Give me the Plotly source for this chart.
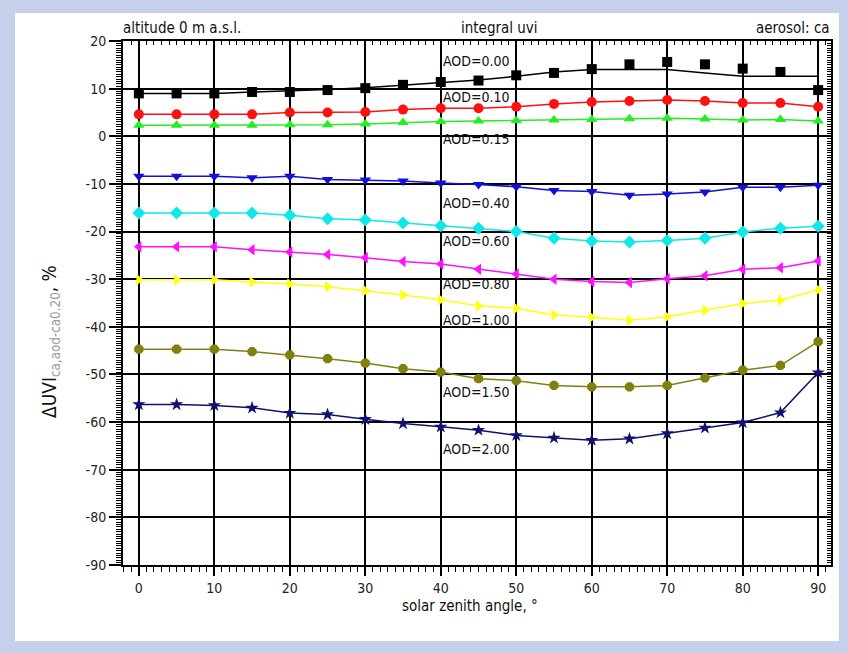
import plotly.graph_objects as go

# ---------------- data ----------------
sza = [0, 5, 10, 15, 20, 25, 30, 35, 40, 45, 50, 55, 60, 65, 70, 75, 80, 85, 90]

aod_000 = [9.0, 9.0, 9.0, 9.3, 9.3, 9.7, 10.1, 10.8, 11.4, 11.7, 12.8, 13.3, 14.1, 15.1, 15.6, 15.1, 14.2, 13.5, 9.7]
aod_000_line = [9.0, 9.0, 9.0, 9.3, 9.5, 9.8, 10.2, 10.7, 11.2, 11.8, 12.6, 13.5, 14.0, 14.0, 14.0, 13.3, 12.6, 12.6, 12.6]
aod_010 = [4.6, 4.6, 4.6, 4.6, 5.0, 5.0, 5.1, 5.6, 5.9, 5.9, 6.2, 6.8, 7.2, 7.4, 7.6, 7.4, 7.0, 7.0, 6.2]
aod_015 = [2.3, 2.3, 2.3, 2.3, 2.4, 2.4, 2.6, 2.9, 3.1, 3.2, 3.3, 3.4, 3.5, 3.7, 3.8, 3.6, 3.4, 3.5, 3.2]
aod_040 = [-8.4, -8.4, -8.4, -8.7, -8.4, -9.1, -9.2, -9.4, -9.8, -10.1, -10.6, -11.4, -11.6, -12.4, -12.1, -11.7, -10.7, -10.7, -10.3]
aod_060 = [-16.1, -16.1, -16.1, -16.1, -16.6, -17.3, -17.6, -18.2, -18.8, -19.3, -20.0, -21.4, -22.0, -22.2, -21.9, -21.4, -20.1, -19.3, -18.9]
aod_080 = [-23.2, -23.2, -23.2, -23.8, -24.3, -24.8, -25.5, -26.3, -26.8, -27.9, -28.9, -30.0, -30.5, -30.7, -29.9, -29.3, -27.9, -27.6, -26.2]
aod_100 = [-30.1, -30.1, -30.1, -30.6, -31.0, -31.6, -32.4, -33.3, -34.3, -35.6, -36.1, -37.5, -38.0, -38.6, -37.9, -36.5, -35.1, -34.4, -32.2]
aod_150 = [-44.7, -44.7, -44.7, -45.2, -45.9, -46.7, -47.6, -48.8, -49.5, -50.9, -51.3, -52.3, -52.6, -52.6, -52.3, -50.7, -49.1, -48.1, -43.1]
aod_200 = [-56.3, -56.3, -56.5, -57.0, -58.1, -58.4, -59.4, -60.3, -61.0, -61.7, -62.8, -63.3, -63.8, -63.5, -62.4, -61.2, -60.1, -58.0, -49.6]

series_names = ["AOD=0.00", "AOD=0.10", "AOD=0.15", "AOD=0.40", "AOD=0.60",
                "AOD=0.80", "AOD=1.00", "AOD=1.50", "AOD=2.00"]
series_values = [aod_000, aod_010, aod_015, aod_040, aod_060, aod_080, aod_100, aod_150, aod_200]
series_colors = ["#000000", "#ff1010", "#22ee22", "#1010d8", "#10e8e8",
                 "#ff10ff", "#ffff10", "#808010", "#101070"]
series_symbols = ["square", "circle", "triangle-up", "triangle-down", "diamond",
                  "triangle-left", "triangle-right", "octagon", "star"]

# label anchor (x, y) for the AOD labels
label_x = 40
label_y = [15.7, 8.2, -0.6, -14.1, -22.0, -31.0, -38.6, -53.7, -65.7]

x_ticks = [0, 10, 20, 30, 40, 50, 60, 70, 80, 90]
y_ticks = [20, 10, 0, -10, -20, -30, -40, -50, -60, -70, -80, -90]

header_texts = ["altitude 0 m a.s.l.", "integral uvi", "aerosol: ca"]

# ---------------- layout geometry ----------------
W, H = 848, 653
ML, MR, MT, MB = 123, 17, 41, 88
XR = [-2.1, 91.7]
YR = [-90, 20]
FONT = "Liberation Sans Narrow, DejaVu Sans Condensed, Arial Narrow, Liberation Sans, sans-serif"
pw, ph = W - ML - MR, H - MT - MB


def px_x(p):
    return (p - ML) / pw


def px_y(p):
    return (H - MB - p) / ph


fig = go.Figure()

# black reference line (drawn separately from its markers)
fig.add_trace(go.Scatter(x=sza, y=aod_000_line, mode="lines",
                         line=dict(color="#000000", width=1.5),
                         showlegend=False, hoverinfo="skip"))

for name, vals, col, sym in zip(series_names, series_values, series_colors, series_symbols):
    mode = "markers" if name == "AOD=0.00" else "lines+markers"
    fig.add_trace(go.Scatter(
        x=sza, y=vals, mode=mode, name=name,
        line=dict(color=col, width=1.5),
        marker=dict(symbol=sym, size=10, color=col, line=dict(width=0)),
        showlegend=False))

# invisible trace to host the top/right mirrored tick axes
fig.add_trace(go.Scatter(x=sza, y=aod_000_line, mode="lines", xaxis="x2", yaxis="y2",
                         line=dict(width=0), opacity=0, showlegend=False, hoverinfo="skip"))

for name, ly in zip(series_names, label_y):
    fig.add_annotation(x=label_x, y=ly, text=name, showarrow=False,
                       xanchor="left", yanchor="middle",
                       font=dict(family=FONT, size=14, color="#111111"))

hdr_font = dict(family=FONT, size=15, color="#111111")
hdr_pos = [(px_x(121), "left"), (px_x(500), "center"), (px_x(832), "right")]
for txt, (hx, anc) in zip(header_texts, hdr_pos):
    fig.add_annotation(xref="paper", yref="paper", x=hx, y=px_y(28), text=txt,
                       showarrow=False, xanchor=anc, yanchor="middle", font=hdr_font)

# axis titles
fig.add_annotation(xref="paper", yref="paper",
                   x=px_x(470), y=px_y(606),
                   text="solar zenith angle, °", showarrow=False,
                   xanchor="center", yanchor="middle",
                   font=dict(family=FONT, size=15, color="#111111"))
fig.add_annotation(xref="paper", yref="paper",
                   x=px_x(50), y=px_y(342),
                   text="ΔUVI<sub><span style='color:#9a9a9a'>ca,aod-ca0.20</span></sub>, %",
                   textangle=-90, showarrow=False,
                   xanchor="center", yanchor="middle",
                   font=dict(family=FONT, size=19, color="#111111"))

# white panel over lavender page
fig.add_shape(type="rect", xref="paper", yref="paper", layer="below",
              x0=px_x(15), x1=px_x(839), y0=px_y(641), y1=px_y(13),
              fillcolor="white", line=dict(width=0))

tickfont = dict(family=FONT, size=14, color="#222222")
fig.update_layout(
    width=W, height=H,
    margin=dict(l=ML, r=MR, t=MT, b=MB),
    paper_bgcolor="#c6d0ea",
    plot_bgcolor="white",
    xaxis=dict(range=XR, tickmode="array", tickvals=x_ticks, ticktext=[str(v) for v in x_ticks],
               showgrid=True, gridcolor="black", gridwidth=2,
               zeroline=False, showline=True, linecolor="black", linewidth=2, mirror=True,
               ticks="outside", ticklen=9, tickwidth=1.5, tickcolor="black",
               minor=dict(dtick=1, tick0=0, ticks="outside", ticklen=5, tickwidth=1,
                          tickcolor="black", showgrid=False),
               tickfont=tickfont),
    yaxis=dict(range=YR, tickmode="array", tickvals=y_ticks, ticktext=[str(v) for v in y_ticks],
               showgrid=True, gridcolor="black", gridwidth=2,
               zeroline=False, showline=True, linecolor="black", linewidth=2, mirror=True,
               ticks="outside", ticklen=12, tickwidth=1.5, tickcolor="black",
               minor=dict(dtick=0.5, tick0=0, ticks="outside", ticklen=5, tickwidth=1,
                          tickcolor="black", showgrid=False),
               tickfont=tickfont),
    xaxis2=dict(range=XR, overlaying="x", side="top", showgrid=False, zeroline=False,
                showticklabels=False, ticks="inside", tickvals=x_ticks, ticklen=5,
                tickcolor="black",
                minor=dict(dtick=1, tick0=0, ticks="inside", ticklen=4, tickcolor="black")),
    yaxis2=dict(range=YR, overlaying="y", side="right", showgrid=False, zeroline=False,
                showticklabels=False, ticks="inside", tickvals=y_ticks, ticklen=5,
                tickcolor="black",
                minor=dict(dtick=0.5, tick0=0, ticks="inside", ticklen=4, tickcolor="black")),
    showlegend=False,
)

fig.write_html("out.html", config={"displayModeBar": False},
               post_script="document.body.style.margin='0';document.body.style.overflow='hidden';")
